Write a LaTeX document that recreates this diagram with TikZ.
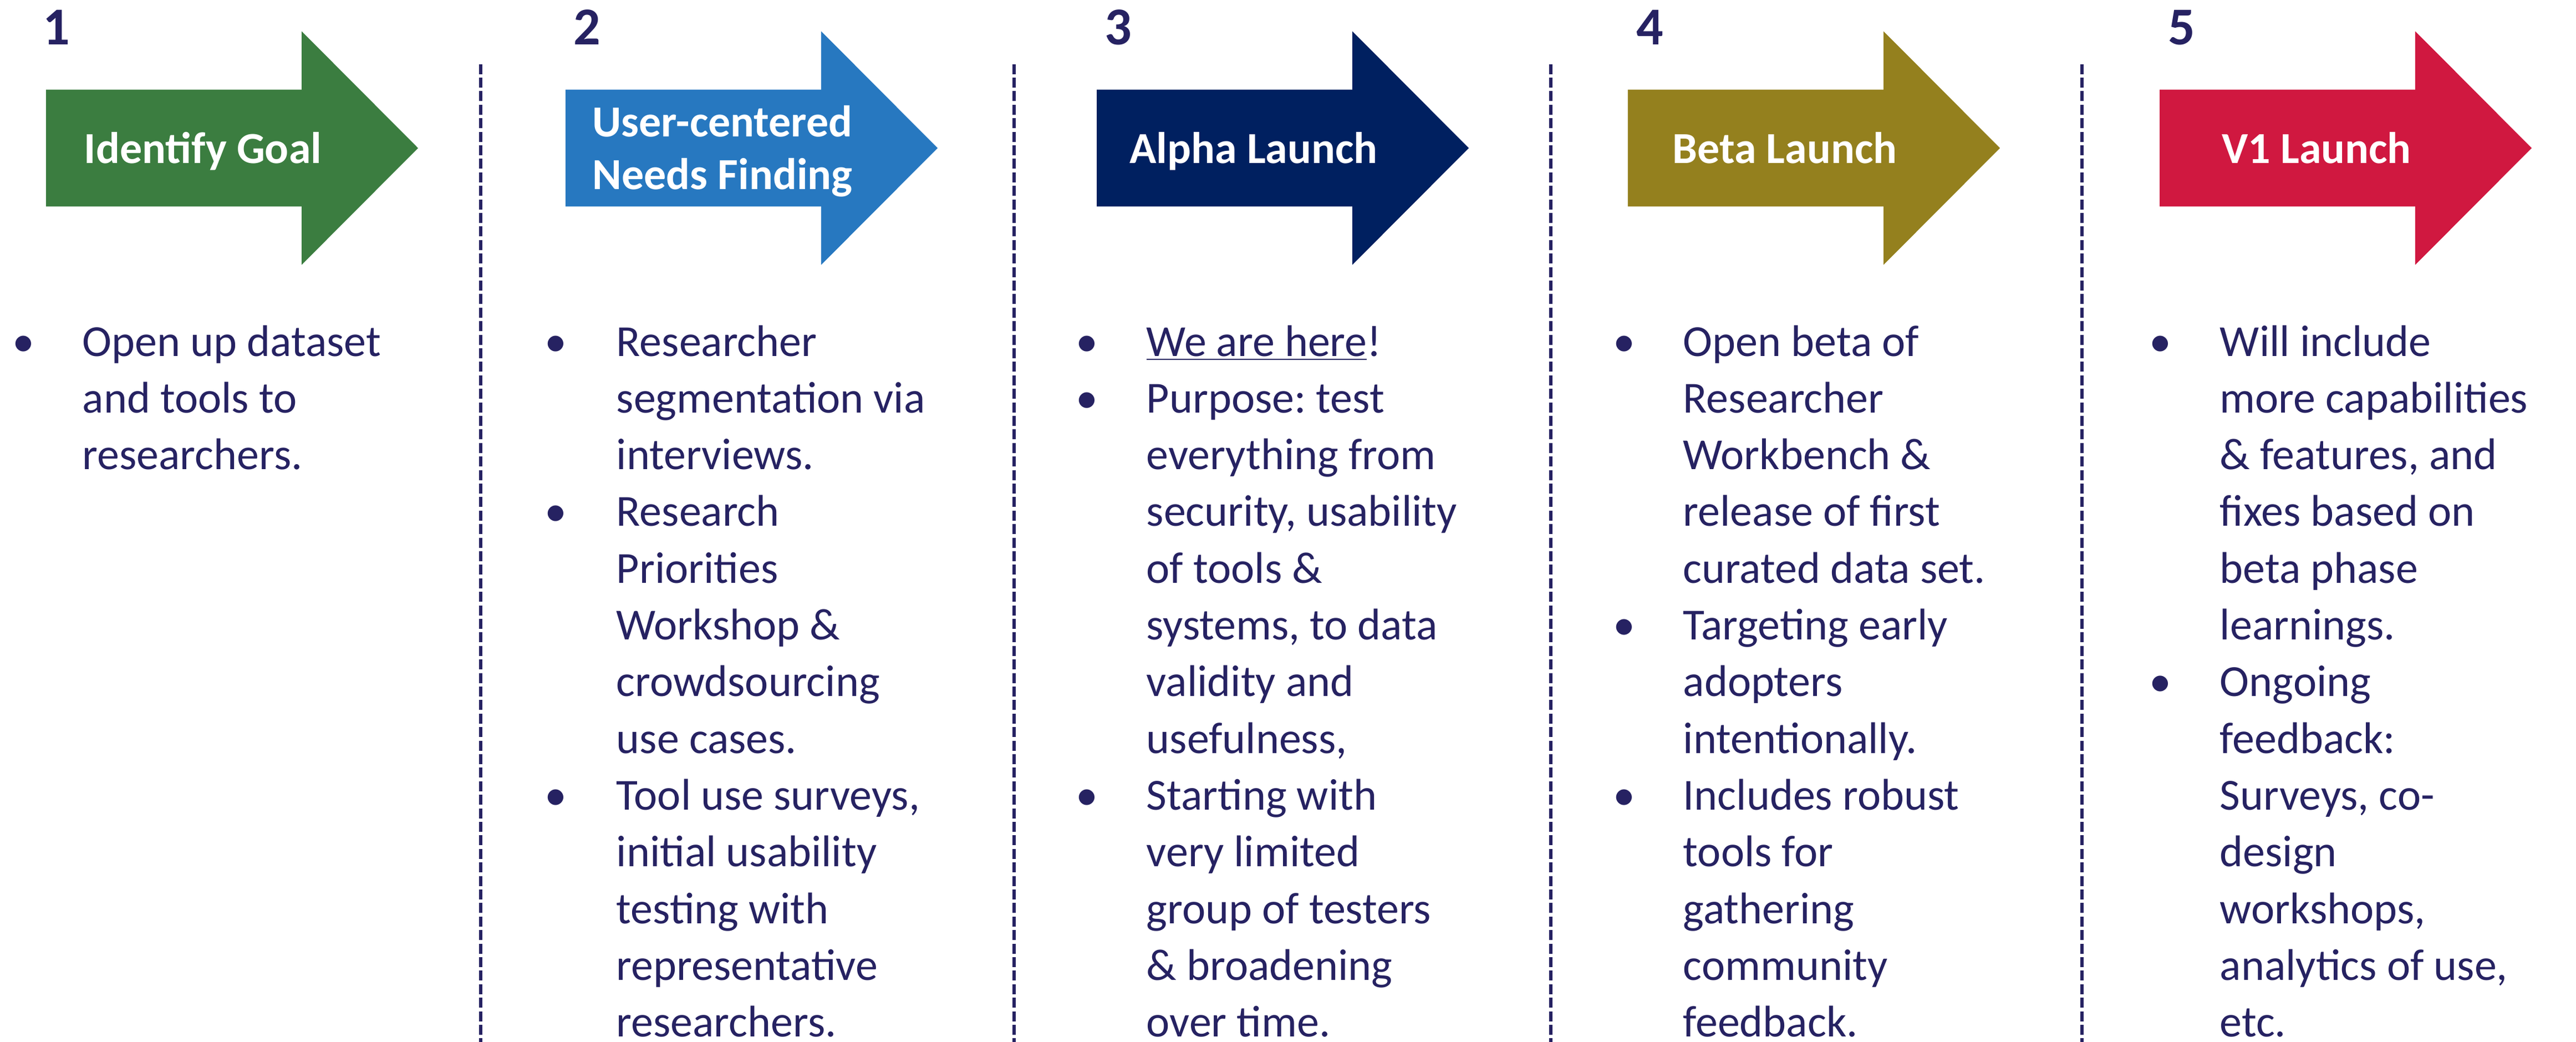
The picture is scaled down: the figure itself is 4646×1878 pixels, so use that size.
\documentclass[tikz,border=0pt]{standalone}
\usepackage{fontspec}
\setmainfont{Carlito}
\frenchspacing
\definecolor{ink}{RGB}{38,34,98}
\definecolor{cgreen}{RGB}{59,125,64}
\definecolor{cblue}{RGB}{39,120,192}
\definecolor{cnavy}{RGB}{0,32,96}
\definecolor{colive}{RGB}{148,128,30}
\definecolor{cred}{RGB}{208,24,64}
\begin{document}
\frenchspacing
\begin{tikzpicture}[x=0.25pt,y=-0.25pt,
  ttl/.style={text=white,font=\fontsize{20}{23.9}\selectfont\bfseries,inner sep=0,anchor=base},
  num/.style={text=ink,font=\fontsize{24}{29}\selectfont\bfseries,inner sep=0,anchor=base},
  bodytxt/.style={text=ink,font=\fontsize{20}{25.575}\selectfont\frenchspacing,inner sep=0,anchor=base west},
  bul/.style={text=ink,font=\fontsize{20}{25.575}\selectfont,inner sep=0,anchor=base},
  sepline/.style={draw=ink,line width=1.6pt,dash pattern=on 4.5pt off 1.6pt}]
\useasboundingbox (0,0) rectangle (4646,1878);
% separators
\begin{scope}
\clip (0,0) rectangle (4646,1878);
\foreach \x in {867,1829,2797,3755} \draw[sepline] (\x,115.6) -- (\x,1900);
\end{scope}
% arrows
\foreach \L/\c in {83/cgreen,1020/cblue,1978/cnavy,2936/colive,3895/cred}
  \fill[\c] (\L,161.5) -- (\L+461,161.5) -- (\L+461,56.3) -- (\L+671,267) -- (\L+461,477.6) -- (\L+461,372.3) -- (\L,372.3) -- cycle;
% numbers
\node[num] (n1) at (102,80) {1};
\node[num] (n2) at (1059,80) {2};
\node[num] (n3) at (2017,80) {3};
\node[num] (n4) at (2976,80) {4};
\node[num] (n5) at (3935,80) {5};
% titles
\node[ttl] (t1) at (366,294) {Identify Goal};
\node[ttl] (t2) at (1303,246) {\begin{tabular}[t]{@{}c@{}}User-centered\\Needs Finding\end{tabular}};
\node[ttl] (t3) at (2261,294) {Alpha Launch};
\node[ttl] (t4) at (3219,294) {Beta Launch};
\node[ttl] (t5) at (4178,294) {V1 Launch};
% column 1
\node[bul] (b1a) at (42,642) {•};
\node[bodytxt] (c1) at (148,642) {\begin{tabular}[t]{@{}l@{}}Open up dataset\\and tools to\\researchers.\end{tabular}};
% column 2
\node[bul] (b2a) at (1002,642) {•};
\node[bul] (b2b) at (1002,948.9) {•};
\node[bul] (b2c) at (1002,1460.4) {•};
\node[bodytxt] (c2) at (1111,642) {\begin{tabular}[t]{@{}l@{}}Researcher\\segmentation via\\interviews.\\Research\\Priorities\\Workshop \&\\crowdsourcing\\use cases.\\Tool use surveys,\\initial usability\\testing with\\representative\\researchers.\end{tabular}};
% column 3
\node[bul] (b3a) at (1960,642) {•};
\node[bul] (b3b) at (1960,744.3) {•};
\node[bul] (b3c) at (1960,1460.4) {•};
\node[bodytxt] (c3) at (2067,642) {\begin{tabular}[t]{@{}l@{}}\underline{We are here}!\\Purpose: test\\everything from\\security, usability\\of tools \&\\systems, to data\\validity and\\usefulness,\\Starting with\\very limited\\group of testers\\\& broadening\\over time.\end{tabular}};
% column 4
\node[bul] (b4a) at (2929,642) {•};
\node[bul] (b4b) at (2929,1153.5) {•};
\node[bul] (b4c) at (2929,1460.4) {•};
\node[bodytxt] (c4) at (3035,642) {\begin{tabular}[t]{@{}l@{}}Open beta of\\Researcher\\Workbench \&\\release of first\\curated data set.\\Targeting early\\adopters\\intentionally.\\Includes robust\\tools for\\gathering\\community\\feedback.\end{tabular}};
% column 5
\node[bul] (b5a) at (3896,642) {•};
\node[bul] (b5b) at (3896,1255.8) {•};
\node[bodytxt] (c5) at (4003,642) {\begin{tabular}[t]{@{}l@{}}Will include\\more capabilities\\\& features, and\\fixes based on\\beta phase\\learnings.\\Ongoing\\feedback:\\Surveys, co-\\design\\workshops,\\analytics of use,\\etc.\end{tabular}};
\end{tikzpicture}
\end{document}
